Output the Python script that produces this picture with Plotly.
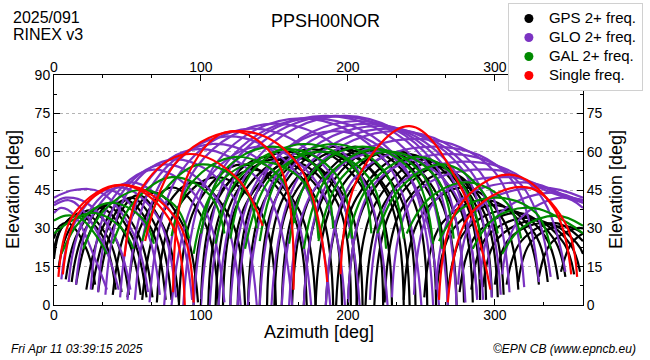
import plotly.graph_objects as go

# ---------------- data (azimuth deg, elevation deg) key points
gps_tracks = [
    [(0, 18), (5, 30), (16, 35), (32, 28), (42, 6)],
    [(0, 22), (6, 31), (20, 36), (37, 26), (46, 5)],
    [(0, 26), (4, 31), (10, 32), (22, 22), (28, 8)],
    [(3, 14), (10, 29), (24, 37), (41, 27), (51, 4)],
    [(8, 10), (16, 28), (31, 38), (49, 27), (59, 4)],
    [(12, 9), (20, 28), (35, 39), (53, 27), (63, 3)],
    [(15, 8), (24, 28), (39, 40), (57, 28), (67, 3)],
    [(22, 6), (32, 29), (48, 41), (66, 30), (76, 2)],
    [(26, 6), (36, 29), (52, 42), (70, 30), (80, 2)],
    [(30, 5), (40, 30), (57, 43), (75, 30), (85, 1)],
    [(40, 4), (50, 31), (68, 44), (88, 31), (98, 1)],
    [(50, 3), (60, 32), (80, 46), (102, 33), (112, 0)],
    [(60, 2), (72, 34), (95, 48), (120, 34), (130, 0)],
    [(70, 1), (82, 36), (110, 50), (140, 37), (151, 0)],
    [(85, 0), (97, 39), (128, 55), (160, 39), (172, 0)],
    [(95, 0), (106, 38), (136, 53), (166, 38), (178, 0)],
    [(100, 0), (112, 42), (145, 58), (178, 42), (190, 0)],
    [(105, 0), (117, 41), (150, 57), (184, 42), (196, 0)],
    [(110, 0), (123, 43), (158, 60), (194, 43), (206, 0)],
    [(115, 0), (127, 42), (162, 58), (198, 42), (210, 0)],
    [(120, 0), (131, 40), (162, 56), (192, 41), (202, 0)],
    [(125, 0), (138, 44), (175, 61), (212, 44), (224, 0)],
    [(132, 0), (145, 43), (182, 60), (218, 43), (230, 0)],
    [(140, 0), (153, 44), (190, 62), (226, 44), (238, 0)],
    [(145, 0), (158, 44), (198, 61), (234, 44), (246, 0)],
    [(150, 0), (162, 42), (196, 59), (230, 42), (242, 0)],
    [(155, 0), (168, 44), (205, 62), (242, 44), (254, 0)],
    [(162, 0), (176, 44), (212, 61), (248, 44), (260, 0)],
    [(170, 0), (184, 43), (220, 61), (256, 43), (268, 0)],
    [(178, 0), (192, 43), (228, 60), (262, 42), (274, 0)],
    [(185, 0), (199, 42), (235, 60), (268, 42), (279, 1)],
    [(192, 0), (206, 42), (242, 59), (274, 41), (285, 1)],
    [(200, 0), (213, 41), (248, 58), (280, 40), (290, 2)],
    [(206, 0), (219, 40), (253, 57), (284, 39), (294, 2)],
    [(212, 0), (225, 40), (258, 56), (288, 38), (298, 3)],
    [(218, 0), (231, 39), (263, 54), (292, 37), (302, 3)],
    [(225, 1), (237, 38), (268, 52), (296, 36), (306, 4)],
    [(238, 2), (250, 35), (280, 46), (306, 33), (316, 6)],
    [(252, 3), (264, 32), (295, 41), (320, 30), (330, 8)],
    [(260, 3), (272, 30), (302, 39), (327, 28), (336, 9)],
    [(268, 4), (280, 29), (310, 37), (334, 27), (343, 10)],
    [(276, 5), (288, 28), (317, 36), (340, 26), (348, 11)],
    [(284, 6), (295, 27), (324, 34), (346, 25), (354, 12)],
    [(292, 7), (302, 26), (330, 33), (351, 24), (358, 13)],
    [(300, 8), (310, 26), (336, 32), (356, 24), (360, 20)],
    [(308, 8), (318, 25), (341, 32), (360, 25)],
    [(316, 9), (325, 25), (346, 31), (360, 28)],
    [(330, 11), (338, 24), (355, 30), (360, 30)],
    [(345, 13), (352, 24), (360, 28)],
]

glo_tracks = [
    [(0, 36), (5, 38), (14, 35), (28, 18), (36, 6)],
    [(0, 39), (10, 41), (18, 38), (35, 22), (44, 6)],
    [(0, 40), (8, 42), (22, 40), (42, 26), (52, 6)],
    [(0, 42), (14, 45), (32, 44), (54, 28), (64, 5)],
    [(5, 10), (14, 32), (36, 45), (60, 33), (72, 4)],
    [(10, 9), (20, 33), (44, 46), (70, 35), (83, 3)],
    [(15, 8), (26, 35), (52, 48), (80, 36), (94, 2)],
    [(25, 6), (38, 40), (68, 53), (100, 40), (116, 1)],
    [(30, 5), (44, 42), (75, 55), (110, 42), (127, 0)],
    [(35, 4), (50, 44), (82, 57), (120, 44), (138, 0)],
    [(45, 3), (62, 47), (98, 61), (142, 47), (162, 0)],
    [(50, 2), (68, 48), (108, 63), (154, 49), (175, 0)],
    [(55, 2), (75, 50), (118, 66), (166, 51), (188, 0)],
    [(65, 1), (86, 52), (134, 69), (186, 53), (208, 0)],
    [(75, 0), (97, 54), (150, 71), (204, 55), (227, 0)],
    [(80, 0), (100, 46), (140, 62), (180, 47), (198, 0)],
    [(88, 0), (111, 56), (168, 73), (226, 56), (250, 0)],
    [(95, 0), (118, 56), (176, 73), (236, 56), (258, 0)],
    [(100, 0), (124, 57), (185, 74), (245, 57), (268, 0)],
    [(106, 0), (130, 57), (192, 74), (252, 57), (274, 0)],
    [(112, 0), (136, 56), (198, 74), (258, 56), (280, 1)],
    [(120, 0), (140, 50), (190, 68), (240, 52), (262, 0)],
    [(125, 0), (148, 55), (208, 72), (266, 54), (288, 2)],
    [(132, 0), (155, 54), (215, 71), (272, 53), (292, 2)],
    [(140, 0), (162, 54), (222, 70), (278, 53), (298, 3)],
    [(148, 0), (170, 53), (228, 69), (284, 52), (304, 4)],
    [(155, 0), (177, 53), (235, 68), (290, 52), (310, 5)],
    [(160, 0), (178, 46), (225, 60), (270, 46), (288, 3)],
    [(170, 0), (191, 52), (248, 65), (300, 52), (320, 7)],
    [(185, 0), (205, 50), (260, 62), (310, 50), (330, 9)],
    [(200, 1), (219, 48), (272, 59), (318, 47), (338, 11)],
    [(215, 2), (233, 46), (285, 56), (328, 45), (348, 13)],
    [(230, 3), (247, 44), (298, 53), (338, 44), (360, 40)],
    [(245, 4), (261, 42), (310, 50), (346, 43), (360, 41)],
    [(260, 6), (275, 40), (320, 48), (352, 42), (360, 41)],
    [(275, 8), (289, 38), (330, 46), (360, 42)],
    [(290, 10), (302, 35), (338, 44), (360, 40)],
    [(305, 12), (316, 33), (346, 42), (360, 38)],
]

gal_tracks = [
    [(0, 33), (8, 35), (18, 34), (30, 26), (36, 20)],
    [(0, 28), (12, 33), (28, 36), (46, 30), (54, 22)],
    [(5, 20), (18, 33), (38, 40), (60, 34), (68, 24)],
    [(20, 22), (34, 37), (58, 45), (82, 39), (92, 26)],
    [(40, 24), (54, 40), (80, 50), (106, 43), (116, 28)],
    [(60, 25), (74, 44), (100, 55), (128, 47), (138, 30)],
    [(80, 27), (94, 48), (124, 58), (154, 50), (164, 32)],
    [(95, 20), (110, 46), (140, 56), (170, 48), (180, 26)],
    [(100, 28), (115, 52), (148, 62), (180, 53), (190, 30)],
    [(110, 24), (126, 50), (160, 61), (192, 51), (203, 26)],
    [(120, 26), (136, 53), (170, 63), (204, 54), (216, 28)],
    [(130, 22), (148, 50), (182, 60), (214, 50), (226, 22)],
    [(140, 25), (156, 53), (190, 63), (224, 53), (238, 26)],
    [(160, 24), (176, 52), (210, 62), (244, 52), (258, 24)],
    [(170, 22), (186, 50), (220, 61), (252, 50), (264, 22)],
    [(180, 25), (196, 50), (228, 60), (260, 50), (272, 26)],
    [(200, 26), (216, 48), (248, 58), (278, 47), (290, 28)],
    [(220, 28), (236, 46), (265, 55), (292, 44), (302, 28)],
    [(240, 28), (256, 42), (282, 48), (308, 40), (318, 26)],
    [(262, 25), (278, 38), (302, 42), (328, 36), (338, 22)],
    [(285, 22), (300, 34), (325, 38), (350, 32), (360, 28)],
    [(305, 20), (318, 30), (342, 35), (360, 31)],
]

single_tracks = [
    [(3, 11), (14, 36), (46, 47), (78, 34), (89, 0)],
    [(6, 12), (18, 37), (48, 47), (84, 33), (95, 1)],
    [(48, 19), (60, 46), (90, 59), (124, 50), (142, 31)],
    [(81, 5), (92, 52), (120, 68), (152, 56), (163, 6)],
    [(62, 25), (85, 57), (128, 68), (166, 55), (186, 9)],
    [(195, 12), (207, 50), (242, 70), (276, 47), (297, 6)],
    [(262, 2), (275, 38), (310, 51), (340, 38), (352, 12)],
    [(268, 1), (284, 36), (322, 46), (348, 32), (356, 11)],
]

series_names = ["GPS 2+ freq.", "GLO 2+ freq.", "GAL 2+ freq.", "Single freq."]
series_colors = ["#000000", "#7b33c2", "#008a00", "#ff0000"]
series_tracks = [gps_tracks, glo_tracks, gal_tracks, single_tracks]

x_ticks = [0, 100, 200, 300]
y_ticks = [0, 15, 30, 45, 60, 75, 90]
y2_ticks = [0, 15, 30, 45, 60, 75]

station = "PPSH00NOR"
doy_label = "2025/091"
rinex_label = "RINEX v3"
x_title = "Azimuth [deg]"
y_title = "Elevation [deg]"
stamp = "Fri Apr 11 03:39:15 2025"
credit = "©EPN CB (www.epncb.eu)"

FONT = "Liberation Sans, Arial, Helvetica, sans-serif"

fig = go.Figure()

for tracks, color in zip(series_tracks, series_colors):
    for t in tracks:
        fig.add_trace(go.Scatter(
            x=[p[0] for p in t], y=[p[1] for p in t],
            mode="lines", line=dict(color=color, width=2.2, shape="spline", smoothing=1.1),
            showlegend=False, hoverinfo="skip"))

for name, color in zip(series_names, series_colors):
    fig.add_trace(go.Scatter(x=[None], y=[None], mode="markers",
                             name='<span style="font-size:15px">' + name + "</span>",
                             marker=dict(color=color, size=9)))

# invisible trace on the secondary axes so they render
fig.add_trace(go.Scatter(x=[None], y=[None], xaxis="x2", yaxis="y2",
                         mode="markers", showlegend=False, hoverinfo="skip"))

tickfont = dict(family=FONT, size=14, color="black")

axis_common = dict(ticks="inside", ticklen=6, tickcolor="black", tickwidth=1,
                   showline=True, linecolor="black", linewidth=1, zeroline=False,
                   tickfont=tickfont, automargin=False)

fig.update_layout(
    width=650, height=360,
    margin=dict(l=54, r=67, t=75, b=55, autoexpand=False),
    paper_bgcolor="white", plot_bgcolor="white",
    font=dict(family=FONT, size=14, color="black"),
    xaxis=dict(range=[0, 360], tickvals=x_ticks, showgrid=False, ticklabelstandoff=-3,
               minor=dict(dtick=100 / 3, tick0=0, ticks="inside", ticklen=3, tickcolor="black"),
               **axis_common),
    xaxis2=dict(range=[0, 360], tickvals=x_ticks, showgrid=False, overlaying="x", side="top",
                anchor="y", ticklabelstandoff=-4,
                minor=dict(dtick=100 / 3, tick0=0, ticks="inside", ticklen=3, tickcolor="black"),
                **axis_common),
    yaxis=dict(range=[0, 90], tickvals=y_ticks, showgrid=True, gridcolor="#b4b4b4",
               griddash="dot", gridwidth=1,
               minor=dict(dtick=7.5, tick0=0, ticks="inside", ticklen=3, tickcolor="black"),
               **axis_common),
    yaxis2=dict(range=[0, 90], tickvals=y2_ticks, showgrid=False, overlaying="y", side="right",
                anchor="x",
                minor=dict(dtick=7.5, tick0=0, ticks="inside", ticklen=3, tickcolor="black"),
                **axis_common),
    legend=dict(x=0.858, y=1.313, xanchor="left", yanchor="top",
                bgcolor="white", bordercolor="#d0d0d0", borderwidth=1,
                font=dict(family=FONT, size=12.3, color="black"),
                tracegroupgap=0, itemwidth=30),
    showlegend=True,
)

def note(text, x, y, xanchor="left", yanchor="middle", size=16, angle=0):
    fig.add_annotation(text=text, xref="paper", yref="paper", x=x, y=y,
                       xanchor=xanchor, yanchor=yanchor, showarrow=False, textangle=angle,
                       font=dict(family=FONT, size=size, color="black"))

note(doy_label, -0.081, 1.248)
note(rinex_label, -0.081, 1.174)
note(station, 0.514, 1.233, xanchor="center", size=18)
note(x_title, 0.5, -0.117, xanchor="center", size=18)
note(y_title, -0.0775, 0.5, xanchor="center", size=18, angle=-90)
note(y_title, 1.0624, 0.5, xanchor="center", size=18, angle=-90)
note("<i>" + stamp + "</i>", -0.085, -0.19, size=12)
note("<i>" + credit + "</i>", 1.104, -0.19, xanchor="right", size=12)

fig.write_html("out.html", config={"displayModeBar": False},
               post_script="document.body.style.margin='0px';")
